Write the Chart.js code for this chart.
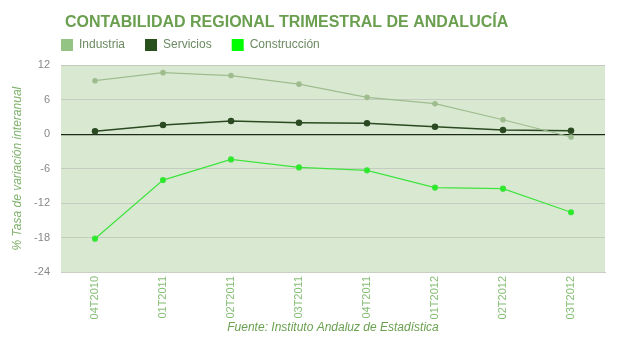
<!DOCTYPE html>
<html>
<head>
<meta charset="utf-8">
<script src="https://cdn.jsdelivr.net/npm/chart.js@4/dist/chart.umd.min.js"></script>
<style>
  html, body { margin: 0; padding: 0; background: #fff; }
  #wrap { width: 631px; height: 337px; }
</style>
</head>
<body>
<div id="wrap"><canvas id="grafico" width="631" height="337"></canvas></div>
<script>
var trimestres = ['04T2010', '01T2011', '02T2011', '03T2011', '04T2011', '01T2012', '02T2012', '03T2012'];
var industria = [9.3, 10.7, 10.2, 8.7, 6.4, 5.3, 2.5, -0.5];
var servicios = [0.5, 1.6, 2.3, 2.0, 1.9, 1.3, 0.7, 0.6];
var construccion = [-18.2, -8.0, -4.4, -5.8, -6.3, -9.3, -9.5, -13.6];

// fondo verde del area de trazado
var fondoPlot = {
    id: 'fondoPlot',
    beforeDraw: function(chart) {
        var a = chart.chartArea, ctx = chart.ctx;
        ctx.save();
        ctx.fillStyle = '#d9e9d1';
        ctx.fillRect(a.left, a.top, a.right - a.left, a.bottom - a.top);
        ctx.restore();
    }
};

// coloca titulo y leyenda a la altura del area de trazado
var colocaCabecera = {
    id: 'colocaCabecera',
    afterInit: function(chart) {
        var leg = chart.legend;
        var fitOrig = leg.fit;
        leg.fit = function() {
            fitOrig.call(this);
            this.height = 33;
        };
    },
    afterLayout: function(chart) {
        var t = chart.titleBlock, leg = chart.legend;
        t.left += 65; t.right += 65;
        leg.left += 41; leg.right += 41;
        leg.top = 19;
    }
};

Chart.defaults.font.family = '"Liberation Sans", Arial, sans-serif';

var grafico = new Chart(document.getElementById('grafico'), {
    type: 'line',
    data: {
        labels: trimestres,
        datasets: [{
            label: 'Industria',
            data: industria,
            borderColor: '#9fbc8f',
            backgroundColor: '#93c483',
            borderWidth: 1.2,
            pointRadius: 2.2,
            pointBackgroundColor: '#9fbc8f'
        }, {
            label: 'Servicios',
            data: servicios,
            borderColor: '#2b4a22',
            backgroundColor: '#27501a',
            borderWidth: 1.5,
            pointRadius: 2.5,
            pointBackgroundColor: '#2b4a22'
        }, {
            label: 'Construcción',
            data: construccion,
            borderColor: '#3ee33e',
            backgroundColor: '#00ff00',
            borderWidth: 1.2,
            pointRadius: 2.5,
            pointBackgroundColor: '#22ee22'
        }]
    },
    options: {
        responsive: false,
        animation: false,
        layout: { padding: { left: 0, right: 26, top: 0, bottom: 0 } },
        plugins: {
            title: {
                display: true,
                align: 'start',
                text: 'CONTABILIDAD REGIONAL TRIMESTRAL DE ANDALUCÍA',
                color: '#6a9f4f',
                font: { size: 16, weight: 'bold' },
                padding: { top: 13, bottom: 0 }
            },
            legend: {
                align: 'start',
                labels: {
                    boxWidth: 12,
                    boxHeight: 12,
                    color: '#6b8a62',
                    font: { size: 12 },
                    padding: 20,
                    generateLabels: function(chart) {
                        return chart.data.datasets.map(function(d, i) {
                            return {
                                text: d.label,
                                fillStyle: d.backgroundColor,
                                strokeStyle: d.backgroundColor,
                                lineWidth: 0,
                                fontColor: '#6b8a62',
                                datasetIndex: i
                            };
                        });
                    }
                }
            },
            tooltip: { enabled: false }
        },
        scales: {
            x: {
                offset: true,
                afterFit: function(scale) { scale.height = 65; },
                grid: { display: false, drawTicks: false },
                border: { color: '#c9cfc4' },
                ticks: {
                    color: '#86be76',
                    font: { size: 11 },
                    maxRotation: 90,
                    minRotation: 90,
                    padding: 4
                },
                title: {
                    display: true,
                    text: 'Fuente: Instituto Andaluz de Estadística',
                    color: '#6aa150',
                    font: { size: 12, style: 'italic' },
                    padding: { top: 0, bottom: 2 }
                }
            },
            y: {
                min: -24,
                max: 12,
                afterFit: function(scale) { scale.width = 61; },
                grid: {
                    drawTicks: false,
                    color: function(c) { return c.tick.value === 0 ? '#1d2a18' : '#c4cbbf'; },
                    lineWidth: function(c) { return c.tick.value === 0 ? 1.2 : 1; }
                },
                border: { display: false },
                ticks: {
                    stepSize: 6,
                    color: '#888',
                    font: { size: 11 },
                    padding: 11
                },
                title: {
                    display: true,
                    text: '% Tasa de variación interanual',
                    color: '#7fb26c',
                    font: { size: 12, style: 'italic' },
                    padding: { top: 10, bottom: 0 }
                }
            }
        }
    },
    plugins: [fondoPlot, colocaCabecera]
});
</script>
</body>
</html>
